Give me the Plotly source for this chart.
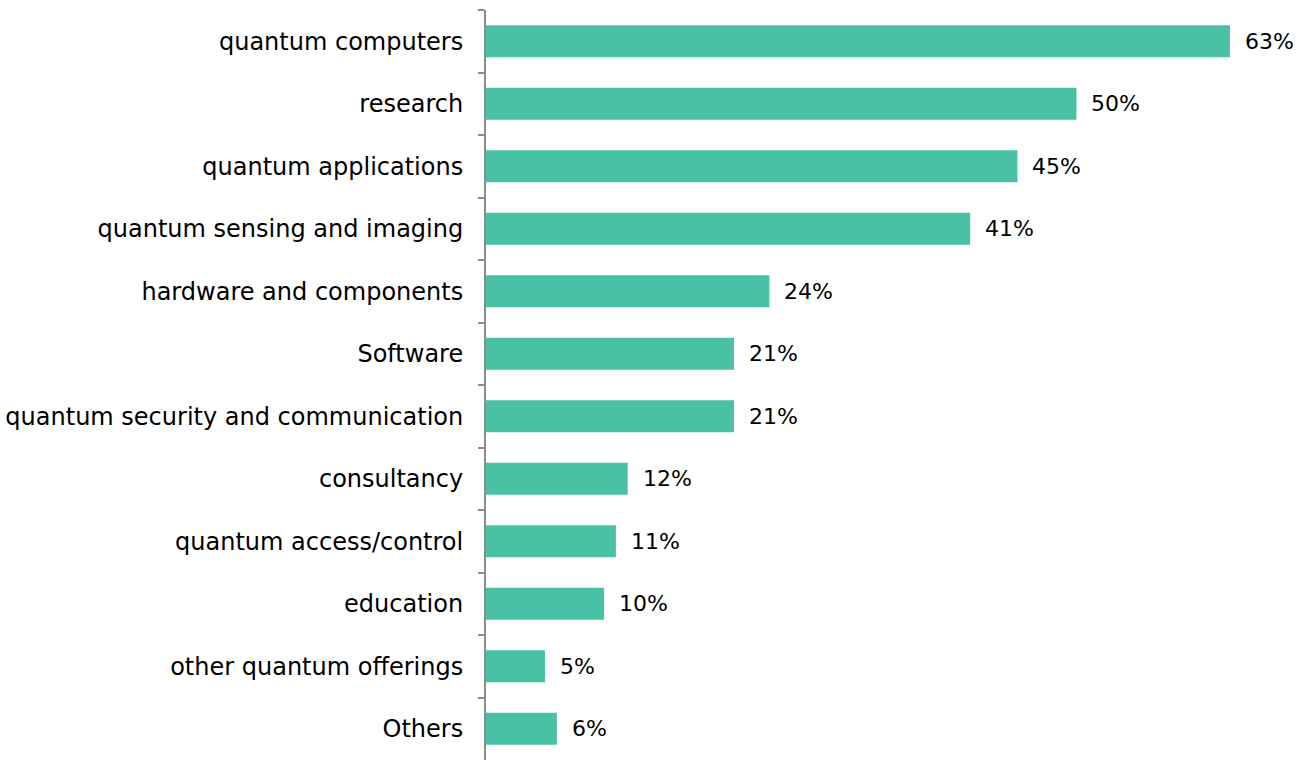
import plotly.graph_objects as go

categories = ["quantum computers", "research", "quantum applications", "quantum sensing and imaging",
              "hardware and components", "Software", "quantum security and communication",
              "consultancy", "quantum access/control", "education", "other quantum offerings", "Others"]
values = [63, 50, 45, 41, 24, 21, 21, 12, 11, 10, 5, 6]
labels = [f"{v}%" for v in values]

fig = go.Figure()
fig.add_trace(go.Bar(
    y=categories, x=values, orientation="h",
    marker=dict(color="#48c1a4", line=dict(width=0)),
    width=0.51,
    hoverinfo="skip",
))
for c, v, t in zip(categories, values, labels):
    fig.add_annotation(x=v, y=c, text=t, showarrow=False, xanchor="left", xshift=13,
                       font=dict(family="DejaVu Sans", size=22, color="#000000"))

fig.update_layout(
    width=1306, height=760,
    margin=dict(l=486, r=17, t=10, b=0),
    paper_bgcolor="white", plot_bgcolor="white",
    showlegend=False,
    xaxis=dict(range=[0, 68], visible=False, fixedrange=True),
    yaxis=dict(autorange="reversed", showline=True, linecolor="#8c8c8c", linewidth=2,
               ticks="outside", ticklen=6, tickcolor="#8c8c8c", tickwidth=1.5,
               tickson="boundaries", showgrid=False,
               tickfont=dict(family="DejaVu Sans", size=24, color="#000000"),
               ticklabelstandoff=16),
)
fig.write_html("out.html")
